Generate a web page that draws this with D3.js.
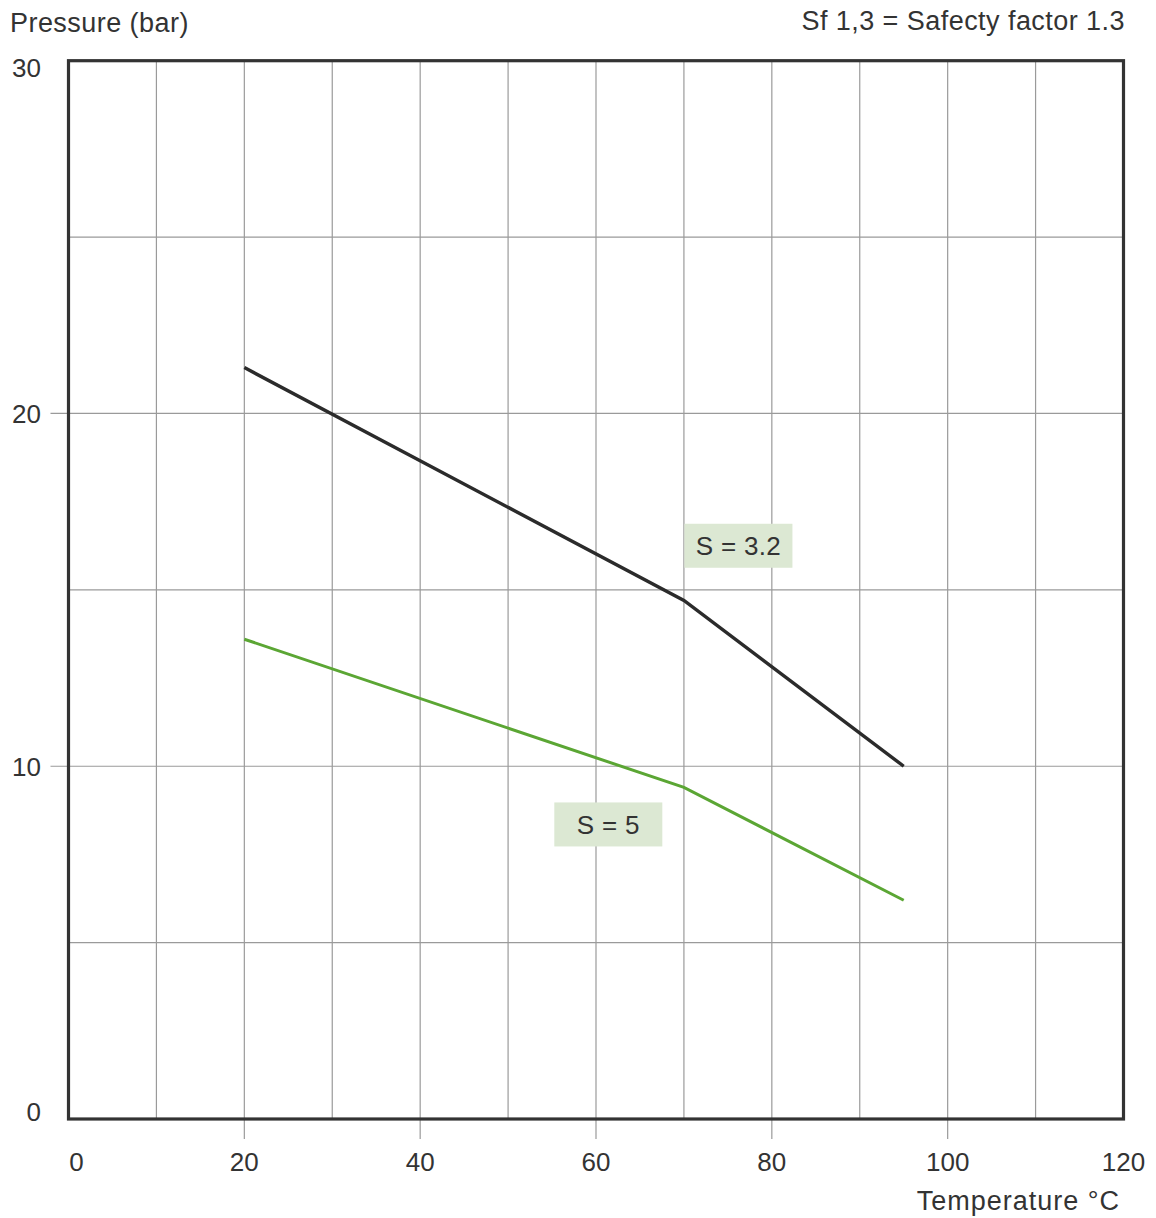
<!DOCTYPE html>
<html><head><meta charset="utf-8">
<script src="https://cdn.jsdelivr.net/npm/d3@7"></script>
<style>body{margin:0;background:#fff}</style>
</head><body>
<script>
// Data
const temps = [20, 70, 95];
const seriesS32 = [21.3, 14.7, 10.0];
const seriesS5 = [13.6, 9.4, 6.2];
const seriesNames = ["S = 3.2", "S = 5"];
const labelAnchors = [[76.2, 16.25], [61.4, 8.35]]; // data coords of label boxes
const xTicks = [0, 20, 40, 60, 80, 100, 120];
const yTicks = [0, 10, 20, 30];
const xGrid = d3.range(0, 121, 10);
const yGrid = d3.range(0, 31, 5);

const W = 1156, H = 1218;
const m = {left: 68.5, right: 1123.5, top: 60.7, bottom: 1119};
const svg = d3.select("body").append("svg").attr("width", W).attr("height", H)
  .style("font-family", "'Liberation Sans', Arial, sans-serif");
const x = d3.scaleLinear().domain([0, 120]).range([m.left, m.right]);
const y = d3.scaleLinear().domain([0, 30]).range([m.bottom, m.top]);

// grid
svg.append("g").selectAll("line").data(xGrid).join("line")
  .attr("x1", d => x(d)).attr("x2", d => x(d))
  .attr("y1", y(30)).attr("y2", d => (d % 20 === 0 && d > 0 && d < 120) ? y(0) + 20 : y(0))
  .attr("stroke", "#9a9a9a").attr("stroke-width", 1.2);
svg.append("g").selectAll("line").data(yGrid).join("line")
  .attr("y1", d => y(d)).attr("y2", d => y(d))
  .attr("x1", d => (d % 10 === 0 && d > 0 && d < 30) ? x(0) - 18 : x(0)).attr("x2", x(120))
  .attr("stroke", "#9a9a9a").attr("stroke-width", 1.2);

// frame
svg.append("rect").attr("x", x(0)).attr("y", y(30))
  .attr("width", x(120) - x(0)).attr("height", y(0) - y(30))
  .attr("fill", "none").attr("stroke", "#333").attr("stroke-width", 3.2);

// lines
const line = d3.line().x(d => x(d[0])).y(d => y(d[1]));
svg.append("path").datum(temps.map((t, i) => [t, seriesS32[i]])).attr("d", line)
  .attr("fill", "none").attr("stroke", "#2b2b2b").attr("stroke-width", 3.4);
svg.append("path").datum(temps.map((t, i) => [t, seriesS5[i]])).attr("d", line)
  .attr("fill", "none").attr("stroke", "#5ba634").attr("stroke-width", 3);

// label boxes
seriesNames.forEach((name, i) => {
  const [lx, ly] = labelAnchors[i];
  const g = svg.append("g");
  g.append("rect").attr("x", x(lx) - 54).attr("y", y(ly) - 22)
    .attr("width", 108).attr("height", 44).attr("fill", "#dce8d3");
  g.append("text").attr("x", x(lx)).attr("y", y(ly)).attr("dy", "0.36em")
    .attr("text-anchor", "middle").attr("font-size", 26).attr("letter-spacing", 0.3)
    .attr("fill", "#333").text(name);
});

// tick labels
svg.append("g").selectAll("text").data(yTicks).join("text")
  .attr("x", 41).attr("y", d => Math.min(Math.max(y(d), 68), 1112)).attr("dy", "0.36em")
  .attr("text-anchor", "end").attr("font-size", 26).attr("fill", "#333").text(d => d);
svg.append("g").selectAll("text").data(xTicks).join("text")
  .attr("x", d => d === 0 ? x(d) + 8 : x(d)).attr("y", 1171)
  .attr("text-anchor", "middle").attr("font-size", 26).attr("fill", "#333").text(d => d);

// titles
svg.append("text").attr("x", 10).attr("y", 32).attr("font-size", 27).attr("letter-spacing", 0.45)
  .attr("fill", "#333").text("Pressure (bar)");
svg.append("text").attr("x", 1125).attr("y", 30).attr("text-anchor", "end").attr("font-size", 27)
  .attr("letter-spacing", 0.45).attr("fill", "#333").text("Sf 1,3 = Safecty factor 1.3");
svg.append("text").attr("x", 1120).attr("y", 1210).attr("text-anchor", "end").attr("font-size", 27)
  .attr("letter-spacing", 1.0).attr("fill", "#333").text("Temperature °C");
</script>
</body></html>
